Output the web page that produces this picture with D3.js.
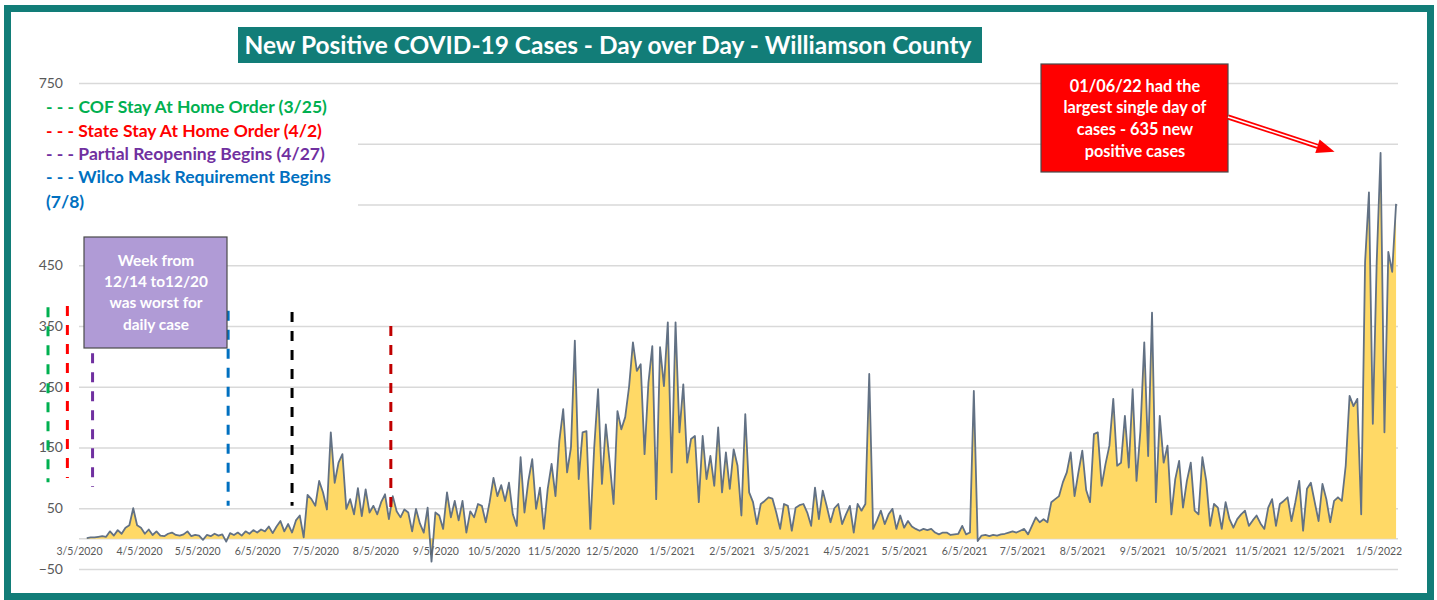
<!DOCTYPE html>
<html><head><meta charset="utf-8">
<script src="https://cdn.jsdelivr.net/npm/d3@7"></script>
<style>body{margin:0;background:#fff}svg{display:block}</style>
</head><body><svg id="c" width="1437" height="600"></svg>
<script>
// ---------- DATA ----------
const seriesStart = "2020-03-09";   // first value date
const stepDays = 2;                  // spacing of values (days)
const cases = [
1,2,2,3,4,3,12,5,14,8,18,22,50,22,18,8,15,6,12,5,4,8,10,6,5,7,12,4,6,
5,-2,6,4,8,5,7,-5,9,6,10,5,12,8,14,10,15,12,20,9,20,29,12,24,10,30,38,2,
72,65,54,95,76,48,175,92,125,139,49,65,40,83,37,81,43,54,40,60,73,32,70,45,35,48,
43,12,49,25,10,51,-38,43,38,16,76,35,62,30,62,10,45,35,57,54,27,60,100,
70,88,62,92,40,21,134,43,95,131,49,84,16,82,123,70,161,213,109,150,326,98,175,177,16,
150,246,90,188,125,57,210,180,200,250,323,276,287,139,257,317,65,315,251,356,109,356,
175,254,125,164,169,60,169,98,136,87,183,76,142,82,147,120,38,205,76,
60,24,57,62,68,66,43,16,57,54,13,51,55,57,43,21,84,32,79,54,27,50,57,24,40,54,10,57,46,57,
271,16,30,46,24,40,49,16,38,18,29,20,16,13,16,14,16,10,7,10,10,6,7,8,21,7,10,
243,-4,5,6,4,6,5,7,8,10,12,10,13,16,7,21,35,27,32,27,60,65,70,93,109,142,70,109,
145,80,60,172,175,87,123,153,230,120,125,202,117,246,95,177,323,136,372,60,202,125,153,
40,98,128,51,95,125,46,40,134,95,21,57,51,16,60,32,18,32,40,46,21,30,38,25,16,51,65,21,
57,62,68,29,60,95,13,82,92,60,29,90,65,27,62,68,62,120,235,218,230,40,455,570,189,455,
635,175,472,439,551
];
const xTickLabels = ["3/5/2020","4/5/2020","5/5/2020","6/5/2020","7/5/2020","8/5/2020","9/5/2020",
  "10/5/2020","11/5/2020","12/5/2020","1/5/2021","2/5/2021","3/5/2021","4/5/2021","5/5/2021",
  "6/5/2021","7/5/2021","8/5/2021","9/5/2021","10/5/2021","11/5/2021","12/5/2021","1/5/2022"];
const xDomain = ["2020-03-05","2022-01-15"];
const yTicks = [-50,50,150,250,350,450,550,650,750];
const yLabelsHidden = [550,650];     // covered by the legend box in the original
const yDomain = [-50,750];

const title = "New Positive COVID-19 Cases - Day over Day - Williamson County";
const legendTexts = ["- - - COF Stay At Home Order (3/25)","- - - State Stay At Home Order (4/2)",
  "- - - Partial Reopening Begins (4/27)","- - - Wilco Mask Requirement Begins","(7/8)"];
const legendColors = ["#00B050","#FF0000","#7030A0","#0070C0","#0070C0"];

// dashed marker lines (date drawn at, value top, value bottom)
const markerDates = ["2020-02-18","2020-02-28","2020-03-12","2020-05-21","2020-06-23","2020-08-13"];
const markerTop = [381,383,305,375,373,350];
const markerBottom = [93,100,85,54,54,40];
const markerColors = ["#00B050","#FF0000","#7030A0","#0070C0","#000000","#C00000"];

const noteWeek = ["Week from","12/14 to12/20","was worst for","daily case"];
const notePeak = ["01/06/22 had the","largest single day of","cases - 635 new","positive cases"];
const peakDate = "2022-01-06", peakValue = 635;

// ---------- DRAW ----------
const svg = d3.select("#c");
const parse = d3.timeParse("%Y-%m-%d");
const parseTick = d3.timeParse("%-m/%-d/%Y");
const teal = "#127D78";
const pLeft = 79, pRight = 1398, pTop = 83, pBottom = 569;

const x = d3.scaleTime().domain(xDomain.map(parse)).range([pLeft, pRight]);
const y = d3.scaleLinear().domain(yDomain).range([pBottom, pTop]);

const t0 = parse(seriesStart);
const data = cases.map((v, i) => ({date: d3.timeDay.offset(t0, i * stepDays), v}));

const font = "Lato, 'Open Sans', sans-serif";
function fit(sel, w) {
  const len = sel.node().getComputedTextLength();
  const fs = parseFloat(sel.attr("font-size"));
  sel.attr("font-size", (fs * w / len).toFixed(2));
  return fs * w / len;
}

// gridlines + y labels
const gy = svg.append("g").attr("transform", `translate(${pLeft},0)`)
  .call(d3.axisLeft(y).tickValues(yTicks).tickSize(-(pRight - pLeft)).tickPadding(16).tickFormat(d3.format("d")));
gy.select(".domain").remove();
gy.selectAll("line").attr("stroke", "#d9d9d9").attr("stroke-width", 1.5);
gy.selectAll("text").attr("fill", "#595959").attr("font-size", 14).attr("font-family", font);
gy.selectAll(".tick").filter(d => yLabelsHidden.includes(d)).select("text").remove();

// zero axis line
svg.append("line").attr("x1", pLeft).attr("x2", pRight).attr("y1", y(0)).attr("y2", y(0))
  .attr("stroke", "#d9d9d9").attr("stroke-width", 1.5);

// area + line
svg.append("path").datum(data)
  .attr("d", d3.area().x(d => x(d.date)).y0(y(0)).y1(d => y(d.v)))
  .attr("fill", "#FFD966");
svg.append("path").datum(data)
  .attr("d", d3.line().x(d => x(d.date)).y(d => y(d.v)))
  .attr("fill", "none").attr("stroke", "#627184").attr("stroke-width", 1.8).attr("stroke-linejoin", "round");

// x labels
const gx = svg.append("g").attr("transform", `translate(0,${y(0)})`)
  .call(d3.axisBottom(x).tickValues(xTickLabels.map(parseTick)).tickSize(0).tickPadding(9)
    .tickFormat(d3.timeFormat("%-m/%-d/%Y")));
gx.select(".domain").remove();
gx.selectAll("text").attr("fill", "#595959").attr("font-size", 10.5).attr("font-family", font);

// dashed marker lines
markerDates.forEach((d, i) => {
  svg.append("line").attr("x1", x(parse(d))).attr("x2", x(parse(d)))
    .attr("y1", y(markerTop[i])).attr("y2", y(markerBottom[i]))
    .attr("stroke", markerColors[i]).attr("stroke-width", 3).attr("stroke-dasharray", "10,9");
});

// legend (white box covers gridlines)
svg.append("rect").attr("x", 40).attr("y", 92).attr("width", 318).attr("height", 120).attr("fill", "#fff");
let lfs = null;
const baselines = [113, 137, 160, 183, 208];
legendTexts.forEach((t, i) => {
  const tx = svg.append("text").attr("x", 46).attr("y", baselines[i]).attr("fill", legendColors[i])
    .attr("font-family", font).attr("font-weight", "bold").attr("font-size", 16).text(t);
  if (i === 0) lfs = fit(tx, 281); else tx.attr("font-size", lfs);
});

// title
svg.append("rect").attr("x", 238).attr("y", 27).attr("width", 744).attr("height", 36).attr("fill", teal);
const tt = svg.append("text").attr("x", 608).attr("y", 54).attr("text-anchor", "middle")
  .attr("fill", "#fff").attr("font-family", font).attr("font-weight", "bold").attr("font-size", 22).text(title);
fit(tt, 727);

// week note box
svg.append("rect").attr("x", 84).attr("y", 237).attr("width", 143).attr("height", 111)
  .attr("fill", "#B09BD6").attr("stroke", "#4a4a4a").attr("stroke-width", 1.2);
const wl = [266, 287, 308, 330];
const wTexts = noteWeek.map((t, i) => svg.append("text").attr("x", 156).attr("y", wl[i]).attr("text-anchor", "middle")
    .attr("fill", "#fff").attr("font-family", font).attr("font-weight", "bold").attr("font-size", 15).text(t));
const wfs = fit(wTexts[1], 104);
wTexts.forEach(s => s.attr("font-size", wfs));

// peak note box
svg.append("rect").attr("x", 1041).attr("y", 64).attr("width", 187).attr("height", 108)
  .attr("fill", "#FF0000").attr("stroke", "#4a4a4a").attr("stroke-width", 1.2);
const pl = [92, 113, 135, 157];
const pTexts = notePeak.map((t, i) => svg.append("text").attr("x", 1135).attr("y", pl[i]).attr("text-anchor", "middle")
    .attr("fill", "#fff").attr("font-family", font).attr("font-weight", "bold").attr("font-size", 15).text(t));
const pfs = fit(pTexts[1], 143);
pTexts.forEach(s => s.attr("font-size", pfs));

// arrow from note toward the peak
const S = [1228, 117];
const T = [x(parse(peakDate)) - 46, y(peakValue) - 1];
const dx = T[0] - S[0], dy = T[1] - S[1], L = Math.hypot(dx, dy);
const ux = dx / L, uy = dy / L, nx = -uy, ny = ux;
const B = [T[0] - 18 * ux, T[1] - 18 * uy];
svg.append("line").attr("x1", S[0]).attr("y1", S[1]).attr("x2", B[0]).attr("y2", B[1])
  .attr("stroke", "#FF0000").attr("stroke-width", 5);
svg.append("line").attr("x1", S[0]).attr("y1", S[1]).attr("x2", B[0] + ux).attr("y2", B[1] + uy)
  .attr("stroke", "#fff").attr("stroke-width", 1.6);
svg.append("path").attr("d", `M${T[0]},${T[1]}L${B[0] + 7 * nx},${B[1] + 7 * ny}L${B[0] - 7 * nx},${B[1] - 7 * ny}Z`)
  .attr("fill", "#FF0000");

// outer border
svg.append("rect").attr("x", 7.5).attr("y", 8.5).attr("width", 1423).attr("height", 588)
  .attr("fill", "none").attr("stroke", teal).attr("stroke-width", 7);
</script></body></html>
